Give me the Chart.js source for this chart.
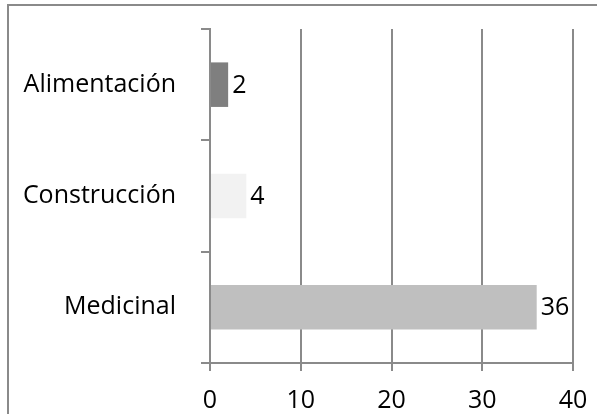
<!DOCTYPE html>
<html>
<head>
<meta charset="utf-8">
<script src="https://cdn.jsdelivr.net/npm/chart.js@4/dist/chart.umd.min.js"></script>
<style>
  html, body { margin: 0; padding: 0; background: #fff; }
  #wrap { width: 597px; height: 414px; position: relative; }
</style>
</head>
<body>
<div id="wrap"><canvas id="c" width="597" height="414"></canvas></div>
<script>
// Uses by category
const categories = ["Alimentación", "Construcción", "Medicinal"];
const counts = [2, 4, 36];
const barColors = ["#7f7f7f", "#f2f2f2", "#bfbfbf"];
const xTicks = [0, 10, 20, 30, 40];

const FONT = "'Open Sans', 'Noto Sans', sans-serif";
const FONT_SIZE = 25;
const lineGray = "#8a8a8a";

// Outer frame around the chart
const framePlugin = {
  id: 'frame',
  beforeDraw(chart) {
    const ctx = chart.ctx;
    ctx.save();
    ctx.strokeStyle = lineGray;
    ctx.lineWidth = 2;
    ctx.strokeRect(8, 5, 700, 500);
    ctx.restore();
  }
};

// Value labels next to each bar end
const valueLabels = {
  id: 'valueLabels',
  afterDatasetsDraw(chart) {
    const ctx = chart.ctx;
    const meta = chart.getDatasetMeta(0);
    ctx.save();
    ctx.font = FONT_SIZE + "px " + FONT;
    ctx.fillStyle = "#000";
    ctx.textAlign = "left";
    ctx.textBaseline = "middle";
    meta.data.forEach((bar, i) => {
      ctx.fillText(String(counts[i]), bar.x + 4, bar.y + 1);
    });
    ctx.restore();
  }
};

// Let the layout padding alone decide where the plot area sits
function clearScalePadding(scale) {
  scale.paddingTop = 0;
  scale.paddingBottom = 0;
  scale.paddingLeft = 0;
  scale.paddingRight = 0;
}

new Chart(document.getElementById('c'), {
  type: 'bar',
  data: {
    labels: categories,
    datasets: [{
      data: counts,
      backgroundColor: barColors,
      borderWidth: 0,
      categoryPercentage: 1.0,
      barPercentage: 0.4
    }]
  },
  options: {
    indexAxis: 'y',
    responsive: false,
    animation: false,
    devicePixelRatio: 1,
    layout: { padding: { top: 29, right: 24, bottom: 0, left: 0 } },
    plugins: { legend: { display: false }, tooltip: { enabled: false } },
    scales: {
      x: {
        min: 0, max: 40,
        afterBuildTicks(scale) { scale.ticks = xTicks.map(v => ({ value: v })); },
        afterFit(scale) { scale.height = 51; clearScalePadding(scale); },
        border: { color: lineGray, width: 2 },
        grid: { color: lineGray, lineWidth: 2, tickLength: 8, drawTicks: true },
        ticks: { color: "#000", font: { family: FONT, size: FONT_SIZE }, padding: 15, maxRotation: 0 }
      },
      y: {
        afterFit(scale) { scale.width = 210; clearScalePadding(scale); },
        border: { color: lineGray, width: 2 },
        grid: { offset: true, drawOnChartArea: false, color: lineGray, lineWidth: 2, tickLength: 9 },
        ticks: { color: "#000", font: { family: FONT, size: FONT_SIZE }, padding: 25 }
      }
    }
  },
  plugins: [framePlugin, valueLabels]
});
</script>
</body>
</html>
